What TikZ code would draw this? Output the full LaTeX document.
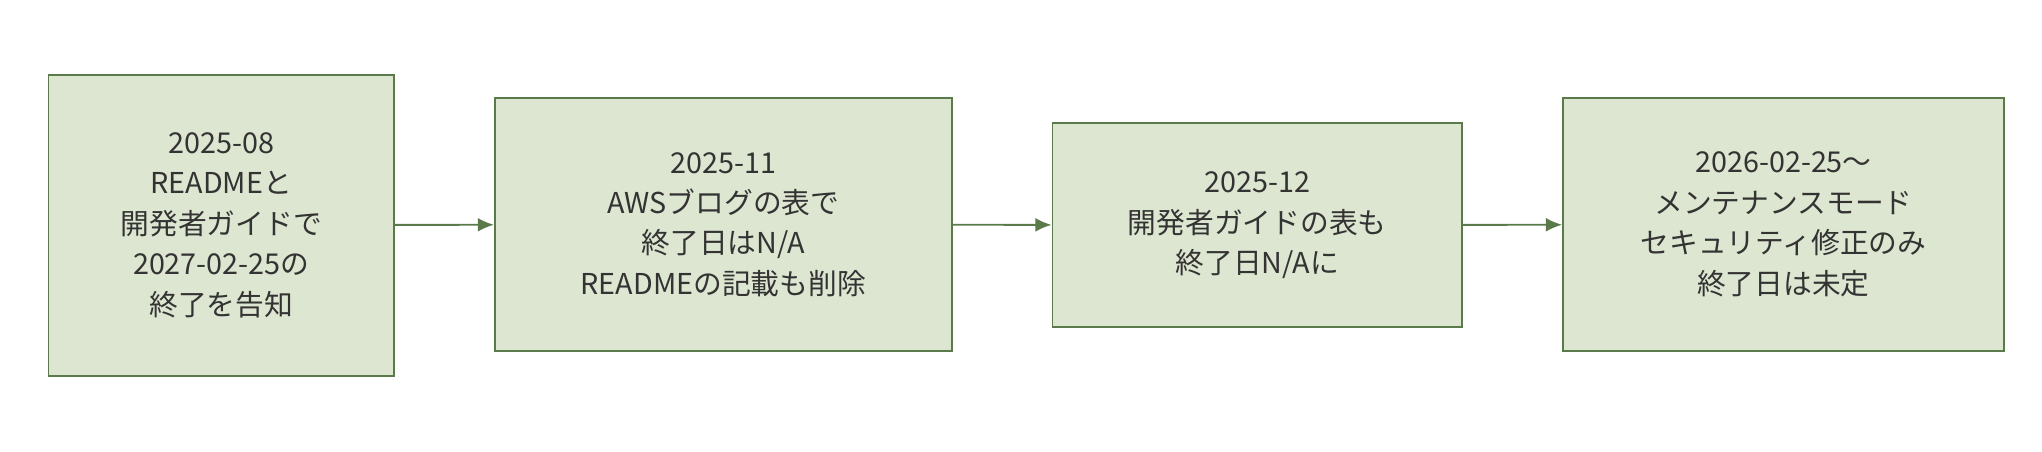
\documentclass[tikz,border=0pt]{standalone}
\usepackage{fontspec}
\setmainfont{Noto Sans CJK JP}
\definecolor{stagefill}{HTML}{DDE6D0}
\definecolor{stageline}{HTML}{5B7A4C}
\definecolor{stagetext}{HTML}{333333}
\usetikzlibrary{arrows.meta,positioning}

\begin{document}
\begin{tikzpicture}[x=0.02cm,y=0.02cm,
    stage/.style={draw=stageline, fill=stagefill, thick, align=center,
        text=stagetext, font=\fontsize{12.5}{17.6}\selectfont, inner sep=0pt},
    flow/.style={draw=stageline, thick, -{Latex[length=7pt,width=6pt]}}]
    \useasboundingbox (0,0) rectangle (1560,345);
    % four stages, left to right
    \node[stage, minimum width=5.28cm, minimum height=4.6cm] (aug) at (169,173)
        {2025-08\\READMEと\\開発者ガイドで\\2027-02-25の\\終了を告知};
    \node[stage, minimum width=6.98cm, minimum height=3.86cm] (nov) at (552.5,173.5)
        {2025-11\\AWSブログの表で\\終了日はN/A\\READMEの記載も削除};
    \node[stage, minimum width=6.26cm, minimum height=3.12cm] (dec) at (960.5,173)
        {2025-12\\開発者ガイドの表も\\終了日N/Aに};
    \node[stage, minimum width=6.74cm, minimum height=3.86cm] (feb) at (1362.5,173.5)
        {2026-02-25～\\メンテナンスモード\\セキュリティ修正のみ\\終了日は未定};
    \draw[flow] (aug) -- (nov);
    \draw[flow] (nov) -- (dec);
    \draw[flow] (dec) -- (feb);
\end{tikzpicture}
\end{document}
